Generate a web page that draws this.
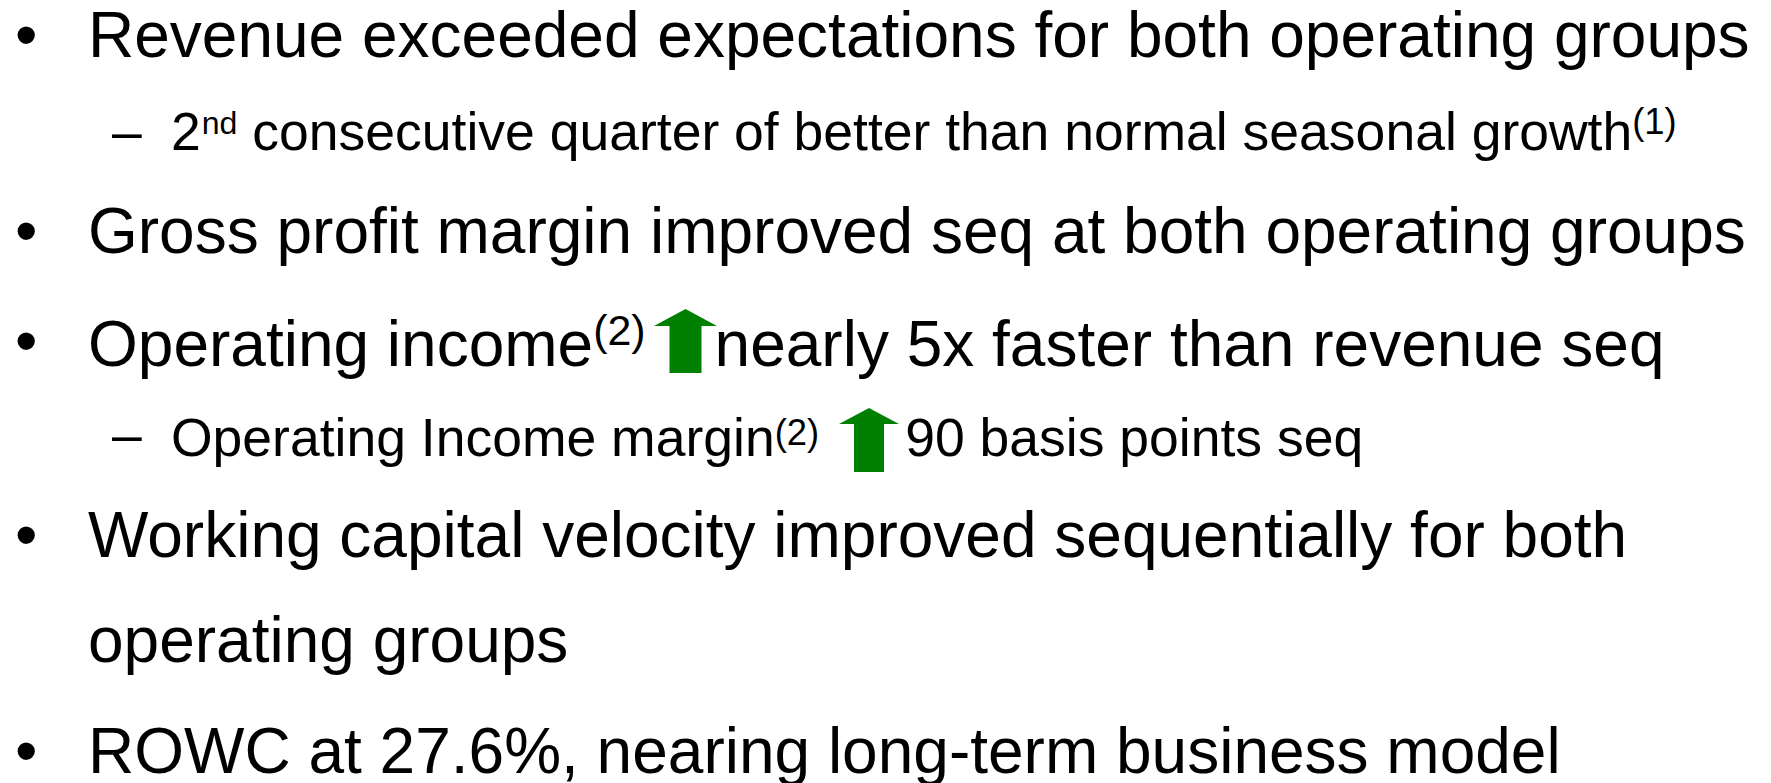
<!DOCTYPE html>
<html>
<head>
<meta charset="utf-8">
<script src="https://cdn.jsdelivr.net/npm/chart.js@4.4.1/dist/chart.umd.min.js"></script>
<style>
  html, body { margin: 0; padding: 0; background: #ffffff; }
  body { width: 1771px; height: 783px; overflow: hidden; position: relative;
         font-family: "Liberation Sans", Arial, sans-serif; color: #000; }
  .line { position: absolute; white-space: nowrap; line-height: 1; }
  .sup { line-height: 0; position: relative; vertical-align: baseline; }
  .arrow { display: inline-block; }
</style>
</head>
<body>
<div id="slide"></div>
<script>
// ---- content (text of the slide) ----
const levels    = [1, 2, 1, 1, 2, 1, 0, 1];          // 1 = bullet, 2 = dash sub-bullet, 0 = continuation
const lineTexts = [
  [["t", "Revenue exceeded expectations for both operating groups"]],
  [["t", "2"], ["s", "nd"], ["t", " consecutive quarter of better than normal seasonal growth"], ["s", "(1)"]],
  [["t", "Gross profit margin improved seq at both operating groups"]],
  [["t", "Operating income"], ["s", "(2)"], ["a", "big"], ["t", "nearly 5x faster than revenue seq"]],
  [["t", "Operating Income margin"], ["s", "(2)"], ["a", "small"], ["t", "90 basis points seq"]],
  [["t", "Working capital velocity improved sequentially for both"]],
  [["t", "operating groups"]],
  [["t", "ROWC at 27.6%, nearing long-term business model"]]
];

// ---- layout / style ----
const baselines = [57, 150, 253, 363, 453, 557, 662, 773];
const mainFont = 64, subFont = 53.5;
const green = "#008000";
// superscript styles: [font ratio, raise px, left gap px]
const supStyle = {
  "nd": [0.6, 16, 1],
  "(1)": [0.68, 16, 0],
  "(2)@3": [0.67, 21, 0],
  "(2)@4": [0.68, 11, 0]
};

function arrowSvg(kind) {
  const big = kind === "big";
  const w = big ? 63 : 60, h = 64;
  const shaft = big ? 32 : 30, head = big ? 17 : 16;
  const sx = (w - shaft) / 2;
  const pts = [[w/2,0],[w,head],[sx+shaft,head],[sx+shaft,h],[sx,h],[sx,head],[0,head]]
    .map(p => p.join(",")).join(" ");
  const ml = big ? 8 : 20, mr = big ? -2 : 6;
  const va = big ? -7 : -16;
  return `<svg class="arrow" width="${w}" height="${h}" style="margin-left:${ml}px;margin-right:${mr}px;vertical-align:${va}px" viewBox="0 0 ${w} ${h}"><polygon points="${pts}" fill="${green}"/></svg>`;
}

const slide = document.getElementById("slide");
levels.forEach((lvl, i) => {
  const fs = lvl === 2 ? subFont : mainFont;
  const top = baselines[i] - 0.8465 * fs;
  if (lvl === 1 || lvl === 2) {
    const b = document.createElement("div");
    b.className = "line"; b.style.fontSize = fs + "px";
    b.style.left = (lvl === 1 ? 15 : 112) + "px"; b.style.top = top + "px";
    b.textContent = lvl === 1 ? "\u2022" : "\u2013";
    slide.appendChild(b);
  }
  const el = document.createElement("div");
  el.className = "line"; el.style.fontSize = fs + "px";
  el.style.left = (lvl === 2 ? 171 : 88) + "px"; el.style.top = top + "px";
  el.innerHTML = lineTexts[i].map(([k, v]) => {
    if (k === "t") return v.replace(/&/g, "&amp;").replace(/</g, "&lt;");
    if (k === "s") {
      const st = supStyle[v] || supStyle[v + "@" + i];
      return `<span class="sup" style="font-size:${(st[0] * fs).toFixed(1)}px;top:-${st[1]}px;margin-left:${st[2]}px">${v}</span>`;
    }
    return arrowSvg(v);
  }).join("");
  slide.appendChild(el);
});
</script>
</body>
</html>
